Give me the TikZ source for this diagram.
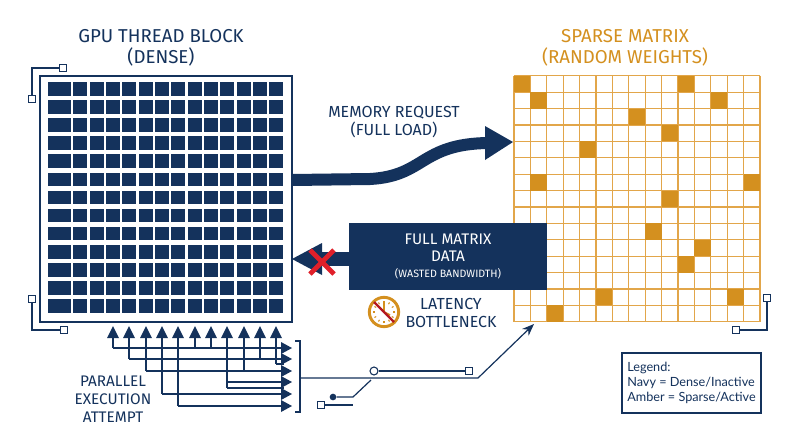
\documentclass[tikz,border=0pt]{standalone}
\usepackage{fontspec}
\usetikzlibrary{calc,arrows.meta}
\setmainfont{Fira Sans}
\newfontfamily\legfont{Lato}
\definecolor{navy}{HTML}{14325C}
\definecolor{amber}{HTML}{D4901F}
\definecolor{amberline}{HTML}{E2A64A}
\definecolor{xred}{HTML}{E0202A}
\begin{document}
\begin{tikzpicture}[x=0.75pt,y=-0.75pt,
  title/.style={font=\fontsize{14}{16}\selectfont, align=center},
  lbl/.style={font=\fontsize{11.5}{13}\selectfont, text=navy, align=center},
  wire/.style={draw=navy, line width=1.1pt},
  tiny/.style={draw=navy, fill=white, line width=0.7pt, minimum size=5pt, inner sep=0pt},
  cell/.style={fill=navy}]
\useasboundingbox (0,0) rectangle (800,447);
\fill[white] (0,0) rectangle (800,447);
% titles
\node[title, text=navy] (t1) at (161,48) {GPU THREAD BLOCK\\(DENSE)};
\node[title, text=amber] (t2) at (625,48) {SPARSE MATRIX\\(RANDOM WEIGHTS)};
% dense grid
\draw[navy, line width=1pt] (40,76) rectangle (292,322);
\coordinate (gridR) at (292,180);
\coordinate (gridL) at (292,259);
\foreach \j in {0,...,12}{
  \fill[navy] (48,{82+18.1*\j}) rectangle ++(23,13.6);
  \foreach \i in {1,...,13}{
    \fill[navy] ({73.3+16.33*(\i-1)},{82+18.1*\j}) rectangle ++(14,13.6);
  }
}
% corner brackets
\node[tiny] (c1) at (63,68) {}; \node[tiny] (c2) at (32,99) {};
\draw[wire, line width=0.8pt] (c1) -- (32,68) -- (c2);
\node[tiny] (c3) at (32,299) {}; \node[tiny] (c4) at (64,330) {};
\draw[wire, line width=0.8pt] (c3) -- (32,330) -- (c4);
\node[tiny] (c5) at (767,298) {}; \node[tiny] (c6) at (736,330) {};
\draw[wire, line width=0.8pt] (c5) -- (767,330) -- (c6);
% sparse grid
\foreach \k in {0,...,15}{
  \draw[amberline, line width=0.9pt] ({514+16.4*\k},75.7) -- ({514+16.4*\k},321.7);
  \draw[amberline, line width=0.9pt] (514,{75.7+16.4*\k}) -- (760,{75.7+16.4*\k});
}
\foreach \c/\r in {0/0,10/0,1/1,12/1,7/2,9/3,4/4,1/6,14/6,9/7,8/9,11/10,10/11,5/13,13/13,2/14}{
  \fill[amber] ({514+16.4*\c},{75.7+16.4*\r}) rectangle ++(16.4,16.4);
}
\coordinate (spL) at (513,142);
\coordinate (spB) at (534,324);
% memory request arrow
\node[lbl, font=\fontsize{12}{14}\selectfont] (mr) at (394,122) {MEMORY REQUEST\\(FULL LOAD)};
\draw[navy, line width=9pt] (gridR) -- (370,179) .. controls (425,176) and (420,144) .. (488,143);
\fill[navy] (485,126) -- (spL) -- (485,160) -- cycle;
% full matrix box
\node[fill=navy, text=white, minimum width=148.5pt, minimum height=50pt, align=center, inner sep=0pt,
  font=\fontsize{11.5}{13}\selectfont] (fm) at (448,256.5)
  {FULL MATRIX\\DATA\\[-1pt]{\fontsize{8}{10}\selectfont (WASTED BANDWIDTH)}};
\fill[navy] (fm.west |- 0,252) -- (312,252) -- (312,266) -- (fm.west |- 0,266) -- cycle;
\fill[navy] (gridL) -- (322,243) -- (322,275) -- cycle;
\draw[xred, line width=3.6pt] (310,250) -- (334,274) (334,250) -- (310,274);
% clock
\node[circle, draw=amber, line width=2.2pt, minimum size=22pt, inner sep=0pt] (clk) at (384,312) {};
\foreach \a in {0,30,...,330}{\draw[amber, line width=0.8pt] ($(clk)+(\a:11)$) -- ($(clk)+(\a:9)$);}
\draw[amber, line width=1.3pt] (clk.center) -- ++(0,-9) (clk.center) -- ++(6,3);
\draw[xred!80!black, line width=1.6pt] ($(clk)+(-10,-10)$) -- ($(clk)+(10,10)$);
\node[lbl, font=\fontsize{12}{14}\selectfont] (lat) at (451,313) {LATENCY\\BOTTLENECK};
% parallel execution arrows
\node[lbl, font=\fontsize{11.5}{13.5}\selectfont] (pe) at (113,399) {PARALLEL\\EXECUTION\\ATTEMPT};
\foreach \x/\yl in {113/348,129/359,146/371,162/394,178/406,195/348,211/348,227/388,244/371,260/359,276/364}{
  \draw[wire] (\x,337) -- (\x,\yl);
  \fill[navy] (\x,326) -- (\x+6,338) -- (\x-6,338) -- cycle;
}
\foreach \xs/\yl in {113/348,129/359,146/371,227/382,162/394,178/406,276/364,227/388}{
  \draw[wire] (\xs,\yl) -- (284,\yl);
}
\draw[wire] (227,382) -- (227,388);
\foreach \yl in {348,359,371,382,394,406}{
  \fill[navy] (292,\yl) -- (281,\yl-6) -- (281,\yl+6) -- cycle;
}
\draw[wire, line width=0.9pt] (295,341) -- (300,341) -- (300,412) -- (295,412);
\draw[wire, line width=0.9pt, -{Stealth[length=9pt,width=7pt]}] (300,378) -- (478,378) -- (spB);
\node[circle, draw=navy, fill=white, line width=0.8pt, minimum size=6pt, inner sep=0pt] (o1) at (374,371) {};
\node[tiny] (s1) at (469,371) {};
\draw[wire, line width=0.9pt] (o1) -- (s1);
\node[circle, fill=navy, minimum size=5pt, inner sep=0pt] (d1) at (333,397) {};
\draw[wire, line width=0.9pt] (d1) -- (353,397) -- (371,380);
\node[tiny] (s2) at (321,405) {};
\draw[wire, line width=0.9pt] (s2) -- (353,405);
% legend
\node[draw=navy, line width=0.8pt, align=left, text=navy, minimum width=103pt, minimum height=45pt,
  inner sep=4pt, font=\legfont\fontsize{9.5}{11.5}\selectfont] (leg) at (691.5,383)
  {Legend:\\Navy = Dense/Inactive\\Amber = Sparse/Active};
\end{tikzpicture}
\end{document}
